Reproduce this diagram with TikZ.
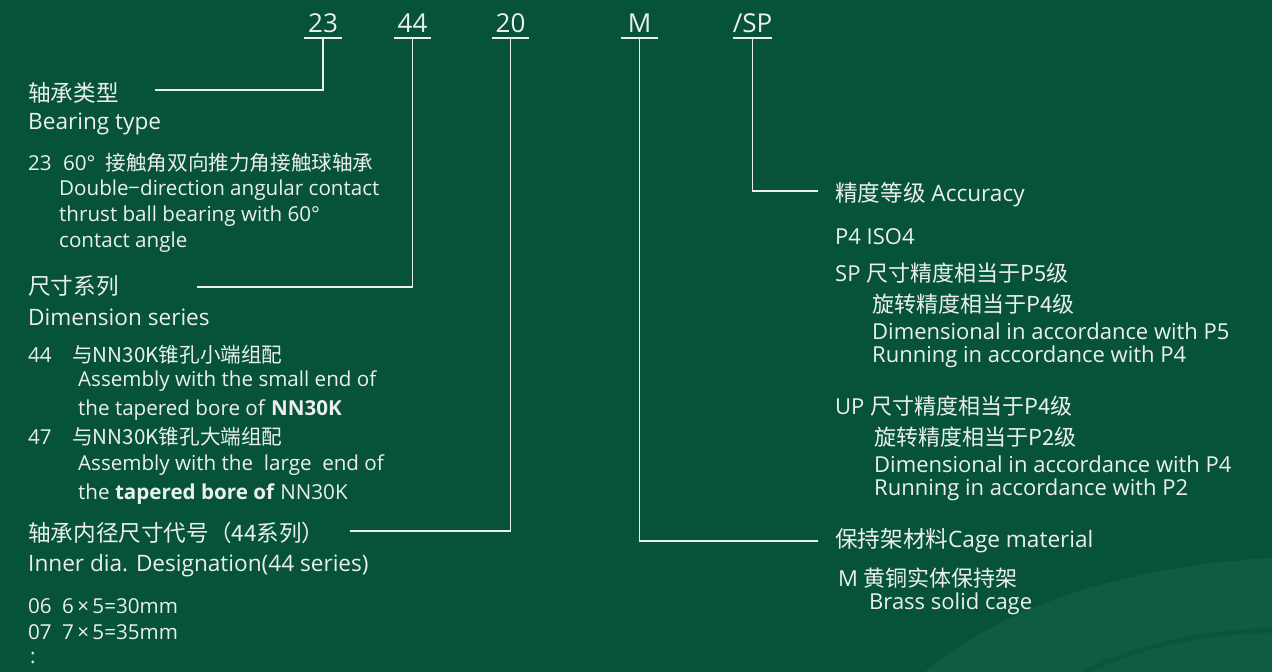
\documentclass[tikz,border=0pt]{standalone}
\usepackage{fontspec}
\setmainfont{Open Sans}
\newfontfamily\cjk{Noto Sans CJK SC}
\usetikzlibrary{positioning}
\definecolor{fond}{RGB}{6,82,58}
\definecolor{fondclair}{RGB}{14,92,66}
\definecolor{blanc}{RGB}{236,240,237}
\newcommand{\zh}[1]{{\cjk #1}}

\begin{document}
\begin{tikzpicture}[x=1pt, y=-1pt]
        % Définition des styles
        \tikzstyle{code} = [text=blanc, font=\fontsize{26}{30}\selectfont, minimum width=37pt, inner xsep=0pt, inner ysep=5pt, text depth=0pt, anchor=south]
        \tikzstyle{titre} = [text=blanc, font=\fontsize{22.6}{26}\selectfont, anchor=west, inner sep=0pt]
        \tikzstyle{texte} = [text=blanc, font=\fontsize{20.6}{24}\selectfont, anchor=west, inner sep=0pt]
        \tikzstyle{texted} = [text=blanc, font=\fontsize{22}{24}\selectfont, anchor=west, inner sep=0pt]
        \tikzstyle{trait} = [draw=blanc, line width=1.6pt]
        
        % Fond et motif
        \useasboundingbox (0,0) rectangle (1272,672);
        \fill[fond] (0,0) rectangle (1272,672);
        \fill[fondclair] (925,672) .. controls (1010,600) and (1140,565) .. (1272,558) -- (1272,672) -- cycle;
        \draw[fond!60!fondclair, line width=5pt] (1085,672) .. controls (1140,645) and (1200,633) .. (1272,630);
        
        % Code de désignation
        \node [code] (c23) at (323,38) {23};
        \node [code] (c44) at (412.5,38) {44};
        \node [code] (c20) at (510.5,38) {20};
        \node [code] (cM) at (639.5,38) {M};
        \node [code] (cSP) at (752.5,38) {/SP};
        \foreach \c in {c23,c44,c20,cM,cSP}
            \draw [trait] (\c.south west) -- (\c.south east);
        
        % Type de roulement
        \node [titre] (typeZ) at (28,93) {\zh{轴承类型}};
        \node [titre] (typeE) at (28,124) {Bearing type};
        \node [texte] (t23) at (28,163) {23\hspace{0.55em}60°\hspace{0.5em}\zh{接触角双向推力角接触球轴承}};
        \node [texte] (t23a) at (59,190) {Double{\cjk−}direction angular contact};
        \node [texte] (t23b) at (59,216) {thrust ball bearing with 60°};
        \node [texte] (t23c) at (59,242) {contact angle};
        
        % Série de dimensions
        \node [titre] (serZ) at (28,286) {\zh{尺寸系列}};
        \node [titre] (serE) at (28,317) {Dimension series};
        \node [texte] (s44) at (28,355) {44\hspace{1em}\zh{与NN30K锥孔小端组配}};
        \node [texte] (s44a) at (78,381) {Assembly with the small end of};
        \node [texte] (s44b) at (78,410) {the tapered bore of \textbf{NN30K}};
        \node [texte] (s47) at (28,437) {47\hspace{1em}\zh{与NN30K锥孔大端组配}};
        \node [texte] (s47a) at (78,465) {Assembly with the\ \ large\ \ end of};
        \node [texte] (s47b) at (78,494) {the \textbf{tapered bore of} NN30K};
        
        % Diamètre intérieur
        \node [titre] (diaZ) at (28,533) {\zh{轴承内径尺寸代号（44系列）}};
        \node [titre] (diaE) at (28,566) {Inner dia. Designation(44 series)};
        \node [texte] (d06) at (28,606) {06\hspace{0.5em}6\,×\,5=30mm};
        \node [texte] (d07) at (28,632) {07\hspace{0.5em}7\,×\,5=35mm};
        \node [texte] (dpt) at (30,658) {:};
        
        % Précision
        \node [titre] (precT) at (835,195) {\zh{精度等级} Accuracy};
        \node [texted] (pP4) at (835,237) {P4 ISO4};
        \node [texted] (pSP) at (835,273) {SP \zh{尺寸精度相当于P5级}};
        \node [texted] (pSPa) at (872,304) {\zh{旋转精度相当于P4级}};
        \node [texted] (pSPb) at (872,331) {Dimensional in accordance with P5};
        \node [texted] (pSPc) at (872,357) {Running in accordance with P4};
        \node [texted] (pUP) at (835,406) {UP \zh{尺寸精度相当于P4级}};
        \node [texted] (pUPa) at (874,437) {\zh{旋转精度相当于P2级}};
        \node [texted] (pUPb) at (874,464) {Dimensional in accordance with P4};
        \node [texted] (pUPc) at (874,490) {Running in accordance with P2};
        
        % Cage
        \node [titre] (cageT) at (835,541) {\zh{保持架材料}Cage material};
        \node [texted] (cM1) at (838,578) {M \zh{黄铜实体保持架}};
        \node [texted] (cM2) at (869,604) {Brass solid cage};
        
        % Extrémités des traits de repère
        \coordinate (e23) at (155,90);
        \coordinate (e44) at (197,287);
        \coordinate (e20) at (350,531);
        \coordinate (eM) at (818,541);
        \coordinate (eSP) at (818,191);
        
        % Traits de repère
        \draw [trait] (c23.south) |- (e23);
        \draw [trait] (c44.south) |- (e44);
        \draw [trait] (c20.south) |- (e20);
        \draw [trait] (cM.south) |- (eM);
        \draw [trait] (cSP.south) |- (eSP);
        
    \end{tikzpicture}
\end{document}
